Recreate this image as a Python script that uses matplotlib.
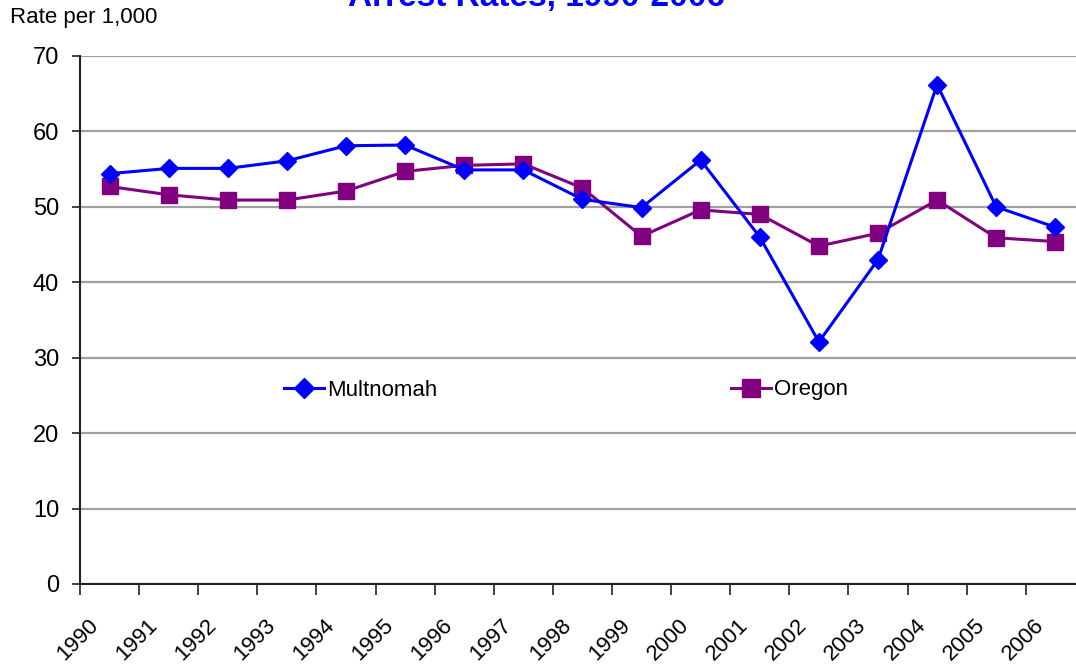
import matplotlib

matplotlib.use("Agg")

import matplotlib.pyplot as plt
import matplotlib.transforms as mtransforms
import numpy as np

years = [str(y) for y in range(1990, 2007)]
multnomah = [54.4, 55.1, 55.1, 56.1, 58.1, 58.2, 54.9, 54.9, 51.0, 49.9,
             56.2, 46.0, 32.1, 43.0, 66.2, 50.0, 47.3]
oregon = [52.7, 51.6, 50.9, 50.9, 52.1, 54.7, 55.5, 55.7, 52.5, 46.1,
          49.6, 49.0, 44.8, 46.5, 50.9, 45.9, 45.4]
y_ticks = [0, 10, 20, 30, 40, 50, 60, 70]

plt.rcParams["font.family"] = ["Liberation Sans", "DejaVu Sans"]

fig = plt.figure(figsize=(10.76, 6.69), dpi=100)
ax = fig.add_axes([80 / 1076, 1 - 584 / 669, 1 - 80 / 1076, (584 - 56) / 669])

x = np.arange(len(years))
ax.plot(x, multnomah, color="#0000ff", lw=2.2, marker="D", ms=9,
        label="Multnomah", clip_on=False, zorder=4)
ax.plot(x, oregon, color="#800080", lw=2.2, marker="s", ms=11,
        label="Oregon", clip_on=False, zorder=3)

ax.set_ylim(0, 70)
ax.set_xlim(-0.5, 16.35)
ax.set_yticks(y_ticks)
ax.yaxis.grid(True, color="#a0a0a0", lw=1.6)
ax.set_axisbelow(True)
ax.tick_params(axis="y", labelsize=17, length=6, width=1.2, color="#222222",
               pad=9)

# tick marks between categories, labels at category centres
ax.set_xticks(np.arange(len(years)) - 0.5, minor=True)
ax.set_xticks(x)
ax.set_xticklabels(years, rotation=45, ha="right", va="top",
                   rotation_mode="anchor", fontsize=16)
ax.tick_params(axis="x", which="major", length=0, pad=22)
ax.tick_params(axis="x", which="minor", length=8, width=1.2, color="#222222")
shift = mtransforms.ScaledTranslation(-22 / 100, 0, fig.dpi_scale_trans)
for lab in ax.get_xticklabels():
    lab.set_transform(lab.get_transform() + shift)

for side in ("top", "right"):
    ax.spines[side].set_visible(False)
for side in ("left", "bottom"):
    ax.spines[side].set_color("#222222")
    ax.spines[side].set_linewidth(1.5)

ax.legend(loc="center left", bbox_to_anchor=(184 / 996, (584 - 390) / 528),
          ncol=2, frameon=False, fontsize=16, handlelength=1.8,
          handletextpad=0.15, columnspacing=13.2, markerscale=1.15)

fig.text(10 / 1076, 1 - 18 / 669, "Rate per 1,000", fontsize=16,
         va="center", ha="left")
fig.text(536 / 1076, 1 - 6 / 669, "Arrest Rates, 1990-2006", fontsize=24,
         fontweight="bold", color="#0000ff", ha="center", va="baseline")

fig.savefig("out.png", dpi=100)
